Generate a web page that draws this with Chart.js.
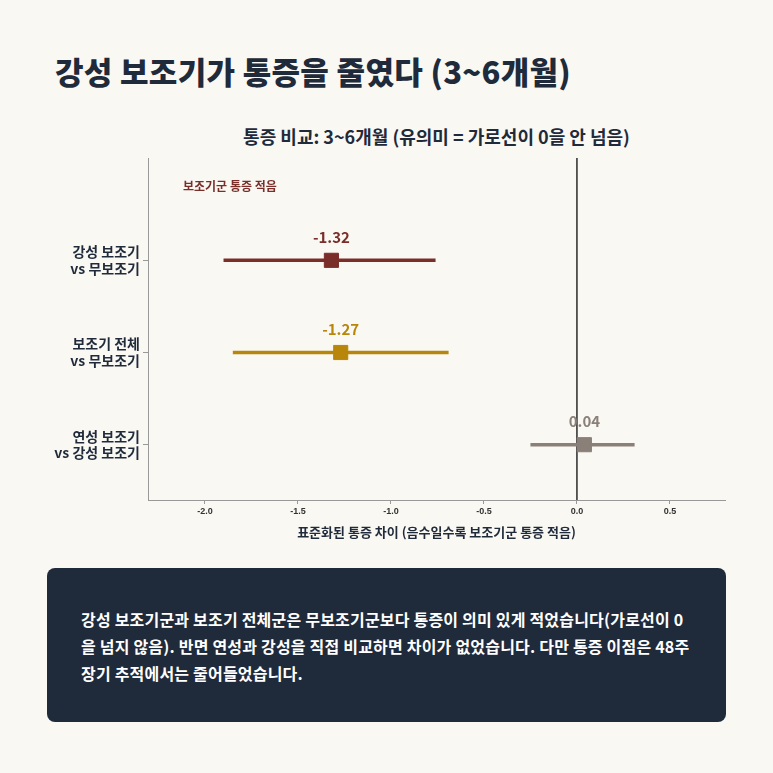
<!DOCTYPE html>
<html><head><meta charset="utf-8">
<script src="https://cdn.jsdelivr.net/npm/chart.js@4/dist/chart.umd.min.js"></script>
<style>
body{margin:0;background:#faf8f3;font-family:"Noto Sans CJK KR",sans-serif;}
#wrap{position:relative;width:773px;height:773px;}
#title{position:absolute;left:55px;top:48px;font-size:31px;font-weight:900;color:#1f2a3a;letter-spacing:0.3px;}
#sub{position:absolute;left:148px;width:577px;top:123px;text-align:center;font-size:18px;font-weight:700;color:#1f2a3a;}
#cv{position:absolute;left:0;top:0;}
#box{position:absolute;left:47px;top:568px;width:679px;height:154px;background:#1f2a3a;border-radius:8px;color:#fff;box-sizing:border-box;padding:38px 30px 0 34px;font-size:16px;font-weight:700;line-height:27px;letter-spacing:0.2px;}
</style></head><body>
<div id="wrap">
<div id="title">강성 보조기가 통증을 줄였다 (3~6개월)</div>
<div id="sub">통증 비교: 3~6개월 (유의미 = 가로선이 0을 안 넘음)</div>
<canvas id="cv" width="773" height="540"></canvas>
<div id="box">강성 보조기군과 보조기 전체군은 무보조기군보다 통증이 의미 있게 적었습니다(가로선이 0을 넘지 않음). 반면 연성과 강성을 직접 비교하면 차이가 없었습니다. 다만 통증 이점은 48주 장기 추적에서는 줄어들었습니다.</div>
</div>
<script>
const categories=[['강성 보조기','vs 무보조기'],['보조기 전체','vs 무보조기'],['연성 보조기','vs 강성 보조기']];
const estimates=[-1.32,-1.27,0.04];
const lower=[-1.90,-1.85,-0.25];
const upper=[-0.76,-0.69,0.31];
const colors=['#7a2e2a','#b8860b','#8a8079'];
const xTicks=[-2.0,-1.5,-1.0,-0.5,0.0,0.5];

const errPlugin={id:'err',
 beforeDatasetsDraw(c){const x=c.scales.x,y=c.scales.y,ctx=c.ctx;ctx.save();
  ctx.strokeStyle='#2a2a2a';ctx.lineWidth=1.5;ctx.beginPath();
  ctx.moveTo(x.getPixelForValue(0),c.chartArea.top);ctx.lineTo(x.getPixelForValue(0),c.chartArea.bottom);ctx.stroke();
  estimates.forEach((e,i)=>{ctx.strokeStyle=colors[i];ctx.lineWidth=3.5;ctx.beginPath();
   const py=y.getPixelForValue(i);ctx.moveTo(x.getPixelForValue(lower[i]),py);ctx.lineTo(x.getPixelForValue(upper[i]),py);ctx.stroke();});
  ctx.restore();},
 afterDatasetsDraw(c){const x=c.scales.x,y=c.scales.y,ctx=c.ctx;ctx.save();
  ctx.font='bold 15px "Noto Sans CJK KR"';ctx.textAlign='center';ctx.textBaseline='bottom';
  estimates.forEach((e,i)=>{ctx.fillStyle=colors[i];ctx.fillText(e.toFixed(2),x.getPixelForValue(e),y.getPixelForValue(i)-16);});
  ctx.font='bold 12px "Noto Sans CJK KR"';ctx.fillStyle='#7a2e2a';ctx.textAlign='left';ctx.textBaseline='middle';
  ctx.fillText('보조기군 통증 적음',183,186);ctx.restore();}
};
new Chart(document.getElementById('cv'),{type:'scatter',
 data:{datasets:[{data:estimates.map((e,i)=>({x:e,y:i})),pointStyle:'rect',radius:10,hoverRadius:10,
  backgroundColor:colors,borderColor:colors}]},
 options:{responsive:false,animation:false,events:[],
  layout:{padding:{left:0,top:158,right:48,bottom:0}},
  plugins:{legend:{display:false},tooltip:{enabled:false}},
  scales:{
   x:{min:-2.306,max:0.796,afterFit(s){s.height=40;},
    afterBuildTicks(s){s.ticks=xTicks.map(v=>({value:v}));},
    ticks:{color:'#333',font:{size:9,weight:'bold'},padding:2,callback:v=>v.toFixed(1)},
    grid:{drawOnChartArea:false,tickLength:4,color:'#999'},border:{color:'#999'},
    title:{display:true,text:'표준화된 통증 차이 (음수일수록 보조기군 통증 적음)',color:'#1f2a3a',font:{size:13,weight:'bold',family:'"Noto Sans CJK KR"'},padding:{top:0,bottom:0}}},
   y:{reverse:true,min:-1.11,max:2.6,afterFit(s){s.width=148;},
    afterBuildTicks(s){s.ticks=[0,1,2].map(v=>({value:v}));},
    ticks:{color:'#1f2a3a',font:{size:14,weight:'bold',family:'"Noto Sans CJK KR"'},callback:v=>categories[v]},
    grid:{drawOnChartArea:false,tickLength:5,color:'#999'},border:{color:'#999'}}
  }},
 plugins:[errPlugin]});
</script></body></html>
